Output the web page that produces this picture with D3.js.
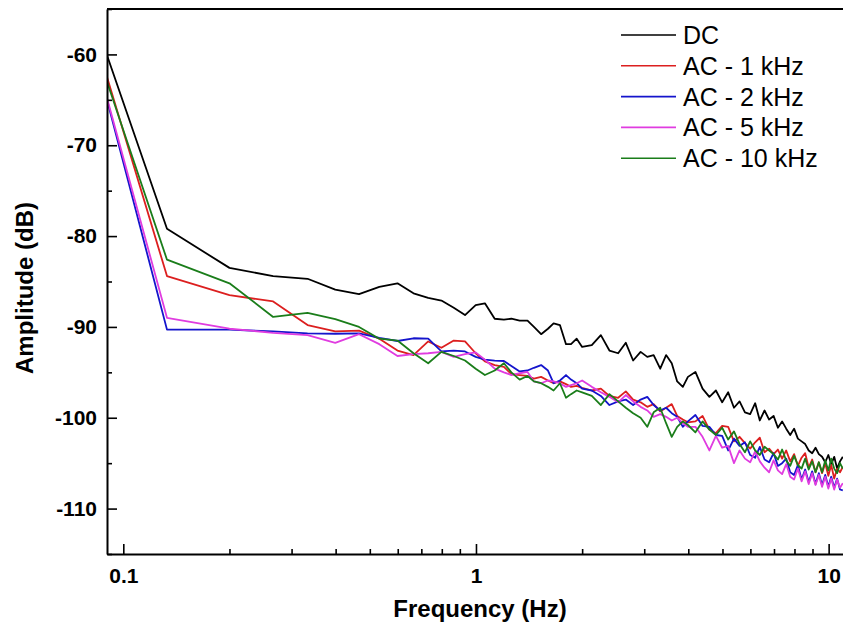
<!DOCTYPE html>
<html lang="en">
<head>
<meta charset="UTF-8">
<title>Amplitude spectrum</title>
<script src="https://d3js.org/d3.v7.min.js"></script>
<style>
  body { margin: 0; background: #fff; }
  svg { display: block; font-family: "Liberation Sans", Arial, sans-serif; }
</style>
</head>
<body>
<svg width="843" height="628"></svg>
<script>
// frequency (Hz) of each sample
const freq = [
  0.0899, 0.133, 0.2, 0.266, 0.333, 0.399, 0.466, 0.532, 0.599, 0.665, 0.732, 0.798, 0.865, 0.931, 0.998,
  1.06, 1.13, 1.2, 1.26, 1.33, 1.4, 1.46, 1.53, 1.6, 1.66, 1.73, 1.8, 1.86, 1.93, 2.0,
  2.13, 2.26, 2.39, 2.53, 2.66, 2.79, 2.93, 3.06, 3.19, 3.33, 3.46, 3.59, 3.72, 3.86, 3.99,
  4.19, 4.39, 4.59, 4.79, 4.99, 5.19, 5.39, 5.59, 5.79, 5.99, 6.19, 6.38, 6.58, 6.78, 6.98,
  7.18, 7.38, 7.58, 7.78, 7.98, 8.18, 8.38, 8.58, 8.78, 8.98, 9.18, 9.38, 9.58, 9.78, 9.98,
  10.17, 10.37, 10.57, 10.77, 10.97
];

// amplitude (dB)
const dc = [
  -60.1, -79.2, -83.5, -84.4, -84.7, -85.9, -86.4, -85.6, -85.2, -86.3, -86.8, -87.1, -87.9, -88.7, -87.6,
  -87.4, -89.1, -89.2, -89.1, -89.3, -89.3, -90.0, -90.8, -90.2, -89.6, -89.8, -91.9, -91.9, -91.3, -92.2,
  -92.0, -90.9, -92.6, -92.9, -91.75, -93.7, -92.75, -93.3, -93.1, -94.6, -93.1, -94.0, -96.0, -96.6, -95.5,
  -94.95, -96.8, -97.7, -97.0, -98.3, -97.2, -98.9, -98.2, -99.4, -99.6, -98.4, -100.3, -99.2, -100.2, -99.8,
  -101.1, -100.4, -101.2, -101.9, -101.2, -102.3, -102.6, -102.9, -103.6, -103.9, -103.3, -104.0, -104.3, -104.9, -104.1,
  -105.1, -104.3, -105.6, -104.8, -104.3
];
const ac1 = [
  -62.5, -84.4, -86.5, -87.2, -89.8, -90.5, -90.4, -91.3, -92.6, -93.1, -91.6, -92.3, -91.5, -91.6, -92.9,
  -93.8, -94.2, -94.4, -95.2, -95.3, -95.4, -95.7, -95.5, -95.9, -96.2, -96.0, -96.3, -96.6, -96.5, -96.7,
  -97.0, -96.8, -97.6, -97.8, -97.1, -98.0, -98.3, -98.8, -98.5, -99.3, -98.9, -98.5, -99.8, -100.2, -100.5,
  -100.4, -99.8, -101.3, -101.7, -100.9, -101.0, -102.6, -102.1, -102.8, -103.4, -102.7, -102.2, -103.8, -103.4, -104.0,
  -103.5, -104.5, -103.6, -104.8, -104.0, -105.3, -104.4, -103.9, -105.5, -104.6, -106.0, -104.9, -106.1, -105.0, -106.4,
  -105.2, -106.7, -105.6, -106.0, -105.4
];
const ac2 = [
  -65.0, -90.3, -90.3, -90.5, -90.7, -90.75, -90.7, -91.2, -91.55, -91.25, -91.3, -92.7, -92.6, -92.7, -93.3,
  -93.6, -93.7, -93.75, -94.3, -94.9, -94.8, -94.5, -94.2, -94.8, -96.2, -95.9, -95.3, -95.8, -96.2, -96.8,
  -97.0, -97.6, -98.6, -98.2, -98.0, -98.6, -98.0, -97.7, -98.6, -99.2, -98.9, -99.5, -99.9, -101.0, -100.4,
  -99.7, -100.9, -101.0, -101.9, -102.0, -103.6, -102.3, -103.1, -102.7, -104.1, -104.4, -103.2, -104.6, -104.9, -103.9,
  -105.3, -105.0, -104.5, -106.0, -106.3, -105.2, -106.8, -105.7, -107.1, -105.9, -107.3, -106.1, -107.4, -106.3, -107.6,
  -106.5, -107.7, -106.7, -107.9, -108.0
];
const ac5 = [
  -64.8, -89.0, -90.2, -90.65, -90.9, -91.75, -90.8, -91.9, -93.2, -93.0, -92.9, -92.75, -93.3, -93.0, -92.8,
  -93.6, -94.6, -95.0, -95.3, -95.1, -94.95, -96.0, -96.2, -95.9, -96.0, -96.2, -96.6, -96.4, -96.2, -95.9,
  -96.6, -97.2, -97.7, -98.3, -97.5, -98.2, -98.8, -99.2, -99.9, -99.6, -99.9, -100.3, -100.0, -100.6, -101.0,
  -101.0, -102.1, -103.6, -102.0, -103.3, -103.1, -105.0, -103.6, -104.5, -104.9, -103.7, -104.8, -105.5, -106.0, -104.7,
  -105.8, -106.2, -105.1, -106.5, -106.8, -105.6, -107.0, -105.9, -107.3, -106.1, -107.4, -106.3, -107.6, -106.5, -107.8,
  -106.7, -107.9, -106.8, -107.7, -107.2
];
const ac10 = [
  -63.0, -82.6, -85.2, -88.9, -88.45, -89.15, -90.0, -91.3, -91.5, -92.9, -94.0, -92.75, -93.2, -93.7, -94.6,
  -95.3, -94.8, -94.0, -95.0, -95.8, -95.4, -96.0, -96.2, -96.6, -97.0, -96.2, -97.8, -97.4, -97.0, -97.2,
  -97.6, -98.6, -97.4, -98.2, -98.9, -99.5, -100.0, -101.0, -99.4, -98.9, -100.6, -102.1, -101.0, -100.4, -100.8,
  -101.6, -100.4, -101.3, -101.9, -101.1, -102.4, -101.5, -102.9, -103.8, -102.6, -103.6, -104.1, -103.2, -103.6, -104.0,
  -104.6, -103.5, -104.7, -105.3, -104.2, -105.2, -105.6, -104.5, -105.7, -104.8, -106.0, -104.9, -106.0, -104.7, -105.8,
  -104.5, -105.6, -106.1, -105.0, -105.6
];

const seriesNames = ["DC", "AC - 1 kHz", "AC - 2 kHz", "AC - 5 kHz", "AC - 10 kHz"];
const seriesValues = [dc, ac1, ac2, ac5, ac10];
const colors = ["#000000", "#dc1f1f", "#1414cc", "#e03ce0", "#1a7d1a"];

const yTicks = [-60, -70, -80, -90, -100, -110];
const yMinorTicks = [-55, -65, -75, -85, -95, -105, -115];
const xTicks = [0.1, 1, 10];
const xTickLabels = ["0.1", "1", "10"];
const xMinorTicks = [0.2, 0.3, 0.4, 0.5, 0.6, 0.7, 0.8, 0.9, 2, 3, 4, 5, 6, 7, 8, 9];

const svg = d3.select("svg");

// plot frame
const plotLeft = 107, plotRight = 846, plotTop = 9, plotBottom = 554;

const x = d3.scaleLog()
    .domain([0.0899, 11.2])
    .range([plotLeft, plotRight]);

const y = d3.scaleLinear()
    .domain([-115, -55])
    .range([plotBottom, plotTop]);

svg.append("clipPath").attr("id", "plotClip")
  .append("rect")
    .attr("x", plotLeft).attr("y", plotTop)
    .attr("width", plotRight - plotLeft).attr("height", plotBottom - plotTop);

// data lines
const line = d3.line()
    .x(d => x(d[0]))
    .y(d => y(d[1]));

const lines = svg.append("g").attr("clip-path", "url(#plotClip)");
seriesValues.forEach((vals, i) => {
    lines.append("path")
        .datum(freq.map((f, j) => [f, vals[j]]))
        .attr("fill", "none")
        .attr("stroke", colors[i])
        .attr("stroke-width", 1.8)
        .attr("stroke-linejoin", "round")
        .attr("d", line);
});

// y axis, ticks pointing inward
svg.append("g")
    .attr("transform", `translate(${plotLeft},0)`)
    .call(d3.axisLeft(y).tickValues(yTicks).tickFormat(d => String(d))
        .tickSize(-10).tickSizeOuter(0).tickPadding(10));
svg.append("g")
    .attr("transform", `translate(${plotLeft},0)`)
    .call(d3.axisLeft(y).tickValues(yMinorTicks).tickSize(-5).tickSizeOuter(0).tickFormat(""))
    .select(".domain").remove();

// x axis
svg.append("g")
    .attr("transform", `translate(0,${plotBottom})`)
    .call(d3.axisBottom(x).tickValues(xTicks).tickFormat((d, i) => xTickLabels[i])
        .tickSize(-10).tickSizeOuter(0).tickPadding(14));
svg.append("g")
    .attr("transform", `translate(0,${plotBottom})`)
    .call(d3.axisBottom(x).tickValues(xMinorTicks).tickSize(-5).tickSizeOuter(0).tickFormat(""))
    .select(".domain").remove();

svg.selectAll(".domain").attr("stroke", "#000").attr("stroke-width", 2);
svg.selectAll(".tick line").attr("stroke", "#000").attr("stroke-width", 1.6);
svg.selectAll(".tick text")
    .attr("fill", "#000")
    .style("font-family", "'Liberation Sans', Arial, sans-serif")
    .style("font-size", "21px")
    .style("font-weight", "bold");

// top border
svg.append("line")
    .attr("x1", plotLeft).attr("x2", plotRight)
    .attr("y1", plotTop).attr("y2", plotTop)
    .attr("stroke", "#000").attr("stroke-width", 2);

// axis titles
svg.append("text")
    .attr("x", 480).attr("y", 617)
    .attr("text-anchor", "middle")
    .style("font-size", "24px").style("font-weight", "bold")
    .text("Frequency (Hz)");

svg.append("text")
    .attr("transform", "translate(33,288) rotate(-90)")
    .attr("text-anchor", "middle")
    .style("font-size", "24px").style("font-weight", "bold")
    .text("Amplitude (dB)");

// legend
const legend = svg.append("g");
seriesNames.forEach((name, i) => {
    const ly = 35 + i * 30.8;
    legend.append("line")
        .attr("x1", 621).attr("x2", 676)
        .attr("y1", ly).attr("y2", ly)
        .attr("stroke", colors[i]).attr("stroke-width", 1.6);
    legend.append("text")
        .attr("x", 683).attr("y", ly + 9)
        .style("font-size", "25px")
        .text(name);
});
</script>
</body>
</html>
